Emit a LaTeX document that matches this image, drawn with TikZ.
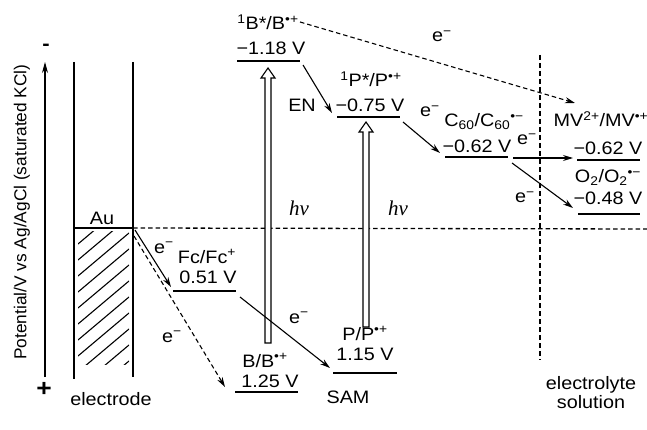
\documentclass[tikz,border=0pt]{standalone}
\usepackage{fontspec}
\setmainfont{Liberation Sans}[FakeStretch=1.1]
\newfontfamily\axisfont{Liberation Sans}
\newfontfamily\hvfont{Liberation Serif}
\usetikzlibrary{arrows.meta}
\begin{document}
\begin{tikzpicture}[x=1pt,y=-1pt,
  every node/.style={font=\fontsize{18}{19}\selectfont, inner sep=0pt},
  lbl/.style={anchor=base},
  lvl/.style={line width=1.6pt},
  arr/.style={line width=1.1pt, -{Stealth[length=10pt,width=6pt]}},
  darr/.style={arr, dash pattern=on 4.5pt off 3pt},
  hollow/.style={line width=1.1pt, fill=white},
  wall/.style={line width=1.3pt}]
\useasboundingbox (0,0) rectangle (647,430);

% axis
\coordinate (axb) at (45,377);
\coordinate (axt) at (45,62);
\draw[line width=1.1pt, -{Stealth[length=11pt,width=6pt]}] (axb) -- (axt);
\node (minus) at (46,47) {\fontsize{20}{20}\selectfont\bfseries -};
\node (plus) at (44,389) {\fontsize{24}{24}\selectfont\bfseries +};
\node[rotate=90, font=\axisfont\fontsize{17.3}{19}\selectfont] (axlbl) at (22,212) {Potential/V vs Ag/AgCl (saturated KCl)};

% electrode
\coordinate (elt) at (74,62);  \coordinate (elb) at (74,379);
\coordinate (ert) at (133,62); \coordinate (erb) at (133,377);
\draw[wall] (elt) -- (elb);
\draw[wall] (ert) -- (erb);
\coordinate (auL) at (74,228); \coordinate (auR) at (133,228);
\draw[lvl] (auL) -- (auR);
\node[lbl] (au) at (102,225) {Au};
\begin{scope}
  \clip (78,232) rectangle (129,364);
  \foreach \k in {-3,...,8}
    \draw[line width=1.1pt] (78,{276+\k*16}) -- (129,{233+\k*16});
\end{scope}
\node[lbl] (electrode) at (111,405) {electrode};

% dashed reference lines
\coordinate (dhR) at (647,229);
\draw[line width=1.3pt, dash pattern=on 4.5pt off 3pt] (auR) -- (dhR);
\coordinate (dvt) at (540,55); \coordinate (dvb) at (540,360);
\draw[line width=1.3pt, dash pattern=on 5pt off 3pt] (dvt) -- (dvb);

% levels
\coordinate (BsW) at (237,61);  \coordinate (BsE) at (300,61);
\coordinate (PsW) at (337,117); \coordinate (PsE) at (400,117);
\coordinate (CW) at (445,157);  \coordinate (CE) at (508,157);
\coordinate (MW) at (577,160);  \coordinate (ME) at (640,160);
\coordinate (OW) at (578,214);  \coordinate (OE) at (640,214);
\coordinate (FW) at (173,291);  \coordinate (FE) at (236,291);
\coordinate (BW) at (235,392);  \coordinate (BE) at (298,392);
\coordinate (PW) at (333,373);  \coordinate (PE) at (397,373);
\foreach \a/\b in {BsW/BsE,PsW/PsE,CW/CE,MW/ME,OW/OE,FW/FE,BW/BE,PW/PE}
  \draw[lvl] (\a) -- (\b);

% labels
\node[lbl] (bsl) at (268,30) {\textsuperscript{1}B*/B\textsuperscript{•+}};
\node[lbl] (bsv) at (271,55) {−1.18 V};
\node[lbl] (psl) at (371,87) {\textsuperscript{1}P*/P\textsuperscript{•+}};
\node[lbl] (psv) at (370,112) {−0.75 V};
\node[lbl] (en) at (302,112) {EN};
\node[lbl] (cl) at (484,127) {C\textsubscript{60}/C\textsubscript{60}\textsuperscript{•−}};
\node[lbl] (cv) at (477,153) {−0.62 V};
\node[lbl] (ml) at (601,127) {MV\textsuperscript{2+}/MV\textsuperscript{•+}};
\node[lbl] (mv) at (608,155) {−0.62 V};
\node[lbl] (ol) at (608,183) {O\textsubscript{2}/O\textsubscript{2}\textsuperscript{•−}};
\node[lbl] (ov) at (608,205) {−0.48 V};
\node[lbl] (fl) at (207,263) {Fc/Fc\textsuperscript{+}};
\node[lbl] (fv) at (208,283) {0.51 V};
\node[lbl] (bl) at (265,367) {B/B\textsuperscript{•+}};
\node[lbl] (bv) at (270,387) {1.25 V};
\node[lbl] (pl) at (365,340) {P/P\textsuperscript{•+}};
\node[lbl] (pv) at (365,360) {1.15 V};
\node[lbl] (sam) at (348,403) {SAM};
\node[lbl, align=center, font=\fontsize{18}{19}\selectfont] (sol) at (591,408) {electrolyte\\solution};
\node[lbl, font=\hvfont\itshape\fontsize{21}{21}\selectfont] (hv1) at (299,215) {hν};
\node[lbl, font=\hvfont\itshape\fontsize{21}{21}\selectfont] (hv2) at (398,215) {hν};

% hollow excitation arrows
\draw[hollow] (265,343) -- (265,78) -- (261,78) -- (268,68) -- (275,78) -- (271,78) -- (271,343) -- cycle;
\draw[hollow] (363,327) -- (363,132) -- (359,132) -- (366,122) -- (373,132) -- (369,132) -- (369,327) -- cycle;

% electron transfer arrows
\coordinate (a1s) at (303,65);  \coordinate (a1e) at (332,113);
\coordinate (a2s) at (403,122); \coordinate (a2e) at (440,153);
\coordinate (a3s) at (513,158); \coordinate (a3e) at (573,158);
\coordinate (a4s) at (512,163); \coordinate (a4e) at (573,208);
\coordinate (a5s) at (135,230); \coordinate (a5e) at (171,287);
\coordinate (a6s) at (240,297); \coordinate (a6e) at (330,368);
\coordinate (a7s) at (134,236); \coordinate (a7e) at (225,387);
\coordinate (a8s) at (300,22);  \coordinate (a8e) at (575,103);
\draw[arr] (a1s) -- (a1e);
\draw[arr] (a2s) -- (a2e);
\draw[arr] (a3s) -- (a3e);
\draw[arr] (a4s) -- (a4e);
\draw[arr] (a5s) -- (a5e);
\draw[arr] (a6s) -- (a6e);
\draw[darr] (a7s) -- (a7e);
\draw[darr] (a8s) -- (a8e);

% electron labels
\node[lbl] (e1) at (442,42) {e\textsuperscript{−}};
\node[lbl] (e2) at (430,117) {e\textsuperscript{−}};
\node[lbl] (e3) at (527,145) {e\textsuperscript{−}};
\node[lbl] (e4) at (525,203) {e\textsuperscript{−}};
\node[lbl] (e5) at (164,253) {e\textsuperscript{−}};
\node[lbl] (e6) at (172,342) {e\textsuperscript{−}};
\node[lbl] (e7) at (299,323) {e\textsuperscript{−}};
\end{tikzpicture}
\end{document}
